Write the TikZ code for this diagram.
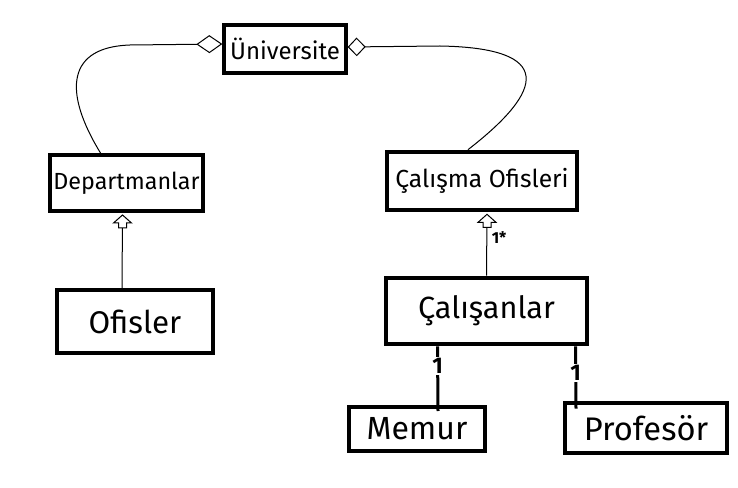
\documentclass[tikz,border=0pt]{standalone}
\usepackage{fontspec}
\setmainfont{Fira Sans}
\usetikzlibrary{arrows.meta}

\tikzset{
  box/.style={draw, line width=3pt, inner sep=0pt, fill=white},
  agg/.style={line width=0.75pt},
  gen/.style={line width=0.75pt},
  assoc/.style={line width=2.25pt},
  mult/.style={fill=white, inner sep=1pt, font=\bfseries\fontsize{17}{17}\selectfont},
  genhead/.pic={\draw[fill=white, line width=0.75pt] (0,0) -- (9,8) -- (4,8) -- (4,13) -- (-4,13) -- (-4,8) -- (-9,8) -- cycle;}
}

\begin{document}
\begin{tikzpicture}[x=0.75pt, y=-0.75pt]
\useasboundingbox (0,0) rectangle (738,488);

% Classes
\node[box, minimum width=91pt, minimum height=36pt, font=\fontsize{18}{18}\selectfont] (uni) at (285,49) {Üniversite};
\node[box, minimum width=115pt, minimum height=42pt, font=\fontsize{17.5}{17.5}\selectfont] (dept) at (126.5,183) {Departmanlar};
\node[box, minimum width=117pt, minimum height=47pt, font=\fontsize{23.5}{23.5}\selectfont] (ofis) at (135,321.5) {Ofisler};
\node[box, minimum width=143pt, minimum height=44pt, font=\fontsize{18.5}{18.5}\selectfont] (calof) at (482,181) {Çalışma Ofisleri};
\node[box, minimum width=151pt, minimum height=50pt, font=\fontsize{23}{23}\selectfont] (calis) at (486.5,311) {Çalışanlar};
\node[box, minimum width=102pt, minimum height=33pt, font=\fontsize{24}{24}\selectfont] (memur) at (417,429) {Memur};
\node[box, minimum width=122pt, minimum height=38pt, font=\fontsize{24.5}{24.5}\selectfont] (prof) at (646,428) {Profesör};

% Aggregations
\draw[agg, {Diamond[open, length=19.5pt, width=13.5pt]}-] ([shift={(0,-5)}]uni.west) -- (130,45)
  .. controls (68,47) and (62,90) .. ([shift={(-26,0)}]dept.north);
\draw[agg, {Diamond[open, length=13.5pt, width=14pt]}-] ([shift={(0,-2)}]uni.east) -- (440,46)
  .. controls (555,48) and (545,90) .. ([shift={(-14,0)}]calof.north);

% Generalizations
\draw[gen] ([shift={(-13,0)}]ofis.north) -- ([shift={(-4,2)}]dept.south) pic {genhead};
\draw[gen] (calis.north) -- node[right, pos=0.62, font=\bfseries\fontsize{12}{12}\selectfont] {1*} ([shift={(5,2)}]calof.south) pic {genhead};

% Associations
\draw[assoc] ([shift={(-49,0)}]calis.south) -- node[mult, pos=0.3] {1} ([shift={(21,6)}]memur.north);
\draw[assoc] ([shift={(89,0)}]calis.south) -- node[mult, pos=0.42] {1} ([shift={(-70,8)}]prof.north);
\end{tikzpicture}
\end{document}
